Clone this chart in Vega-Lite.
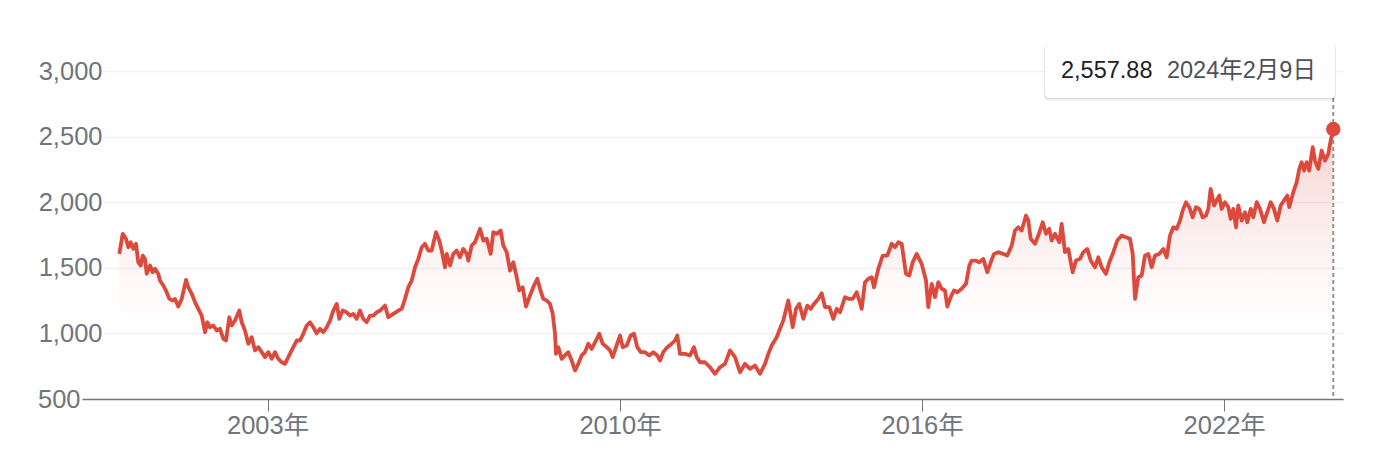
{
  "$schema": "https://vega.github.io/schema/vega-lite/v6.json",
  "width": 1261,
  "height": 328,
  "autosize": {"type": "none"},
  "padding": {"left": 82, "top": 71, "right": 35, "bottom": 57},
  "background": "white",
  "config": {"view": {"stroke": null}, "font": "Liberation Sans, Arial, Noto Sans CJK JP, sans-serif"},
  "data": {"values": [
    {"year": 2000.055, "price": 1606}, {"year": 2000.122, "price": 1759}, {"year": 2000.188, "price": 1721}, {"year": 2000.234, "price": 1657},
    {"year": 2000.281, "price": 1695}, {"year": 2000.333, "price": 1644}, {"year": 2000.386, "price": 1683}, {"year": 2000.432, "price": 1542},
    {"year": 2000.480, "price": 1517}, {"year": 2000.520, "price": 1593}, {"year": 2000.565, "price": 1568}, {"year": 2000.599, "price": 1454},
    {"year": 2000.665, "price": 1517}, {"year": 2000.718, "price": 1466}, {"year": 2000.764, "price": 1492}, {"year": 2000.829, "price": 1454},
    {"year": 2000.863, "price": 1403}, {"year": 2000.929, "price": 1365}, {"year": 2000.996, "price": 1314}, {"year": 2001.048, "price": 1263},
    {"year": 2001.115, "price": 1251}, {"year": 2001.161, "price": 1263}, {"year": 2001.227, "price": 1205}, {"year": 2001.294, "price": 1263},
    {"year": 2001.380, "price": 1408}, {"year": 2001.425, "price": 1352}, {"year": 2001.493, "price": 1302}, {"year": 2001.558, "price": 1238},
    {"year": 2001.624, "price": 1187}, {"year": 2001.691, "price": 1136}, {"year": 2001.757, "price": 1009}, {"year": 2001.803, "price": 1085},
    {"year": 2001.856, "price": 1047}, {"year": 2001.922, "price": 1060}, {"year": 2001.989, "price": 1022}, {"year": 2002.055, "price": 1035},
    {"year": 2002.120, "price": 959}, {"year": 2002.174, "price": 946}, {"year": 2002.240, "price": 1123}, {"year": 2002.287, "price": 1060},
    {"year": 2002.353, "price": 1098}, {"year": 2002.438, "price": 1174}, {"year": 2002.486, "price": 1085}, {"year": 2002.551, "price": 1022},
    {"year": 2002.617, "price": 921}, {"year": 2002.684, "price": 971}, {"year": 2002.750, "price": 870}, {"year": 2002.816, "price": 895},
    {"year": 2002.883, "price": 857}, {"year": 2002.949, "price": 819}, {"year": 2003.014, "price": 857}, {"year": 2003.082, "price": 806},
    {"year": 2003.147, "price": 857}, {"year": 2003.213, "price": 806}, {"year": 2003.280, "price": 780}, {"year": 2003.346, "price": 768},
    {"year": 2003.411, "price": 819}, {"year": 2003.511, "price": 895}, {"year": 2003.578, "price": 946}, {"year": 2003.644, "price": 946},
    {"year": 2003.709, "price": 997}, {"year": 2003.777, "price": 1060}, {"year": 2003.842, "price": 1085}, {"year": 2003.908, "price": 1047},
    {"year": 2003.975, "price": 1000}, {"year": 2004.041, "price": 1035}, {"year": 2004.106, "price": 1009}, {"year": 2004.174, "price": 1047},
    {"year": 2004.240, "price": 1098}, {"year": 2004.305, "price": 1174}, {"year": 2004.373, "price": 1225}, {"year": 2004.424, "price": 1111},
    {"year": 2004.492, "price": 1174}, {"year": 2004.571, "price": 1161}, {"year": 2004.637, "price": 1136}, {"year": 2004.702, "price": 1149},
    {"year": 2004.770, "price": 1111}, {"year": 2004.835, "price": 1174}, {"year": 2004.901, "price": 1111}, {"year": 2004.968, "price": 1085},
    {"year": 2005.034, "price": 1136}, {"year": 2005.100, "price": 1136}, {"year": 2005.167, "price": 1161}, {"year": 2005.233, "price": 1174},
    {"year": 2005.332, "price": 1212}, {"year": 2005.397, "price": 1123}, {"year": 2005.497, "price": 1149}, {"year": 2005.596, "price": 1174},
    {"year": 2005.664, "price": 1187}, {"year": 2005.729, "price": 1263}, {"year": 2005.795, "price": 1352}, {"year": 2005.862, "price": 1403},
    {"year": 2005.928, "price": 1504}, {"year": 2005.993, "price": 1568}, {"year": 2006.061, "price": 1657}, {"year": 2006.126, "price": 1683},
    {"year": 2006.192, "price": 1632}, {"year": 2006.259, "price": 1632}, {"year": 2006.345, "price": 1771}, {"year": 2006.410, "price": 1708},
    {"year": 2006.458, "price": 1632}, {"year": 2006.524, "price": 1504}, {"year": 2006.557, "price": 1606}, {"year": 2006.623, "price": 1517},
    {"year": 2006.688, "price": 1606}, {"year": 2006.756, "price": 1632}, {"year": 2006.821, "price": 1580}, {"year": 2006.887, "price": 1644},
    {"year": 2006.955, "price": 1606}, {"year": 2006.986, "price": 1555}, {"year": 2007.054, "price": 1670}, {"year": 2007.119, "price": 1695},
    {"year": 2007.219, "price": 1797}, {"year": 2007.284, "price": 1708}, {"year": 2007.352, "price": 1721}, {"year": 2007.431, "price": 1606},
    {"year": 2007.483, "price": 1771}, {"year": 2007.550, "price": 1759}, {"year": 2007.630, "price": 1784}, {"year": 2007.681, "price": 1670},
    {"year": 2007.749, "price": 1619}, {"year": 2007.815, "price": 1479}, {"year": 2007.880, "price": 1542}, {"year": 2007.948, "price": 1428},
    {"year": 2007.999, "price": 1327}, {"year": 2008.067, "price": 1352}, {"year": 2008.132, "price": 1205}, {"year": 2008.212, "price": 1289},
    {"year": 2008.291, "price": 1365}, {"year": 2008.357, "price": 1416}, {"year": 2008.410, "price": 1340}, {"year": 2008.476, "price": 1263},
    {"year": 2008.543, "price": 1251}, {"year": 2008.609, "price": 1225}, {"year": 2008.663, "price": 1149}, {"year": 2008.708, "price": 997},
    {"year": 2008.728, "price": 844}, {"year": 2008.774, "price": 895}, {"year": 2008.841, "price": 806}, {"year": 2008.907, "price": 832},
    {"year": 2008.972, "price": 857}, {"year": 2009.040, "price": 793}, {"year": 2009.105, "price": 717}, {"year": 2009.171, "price": 768},
    {"year": 2009.238, "price": 832}, {"year": 2009.304, "price": 857}, {"year": 2009.370, "price": 921}, {"year": 2009.437, "price": 882},
    {"year": 2009.523, "price": 946}, {"year": 2009.588, "price": 997}, {"year": 2009.656, "price": 921}, {"year": 2009.735, "price": 895},
    {"year": 2009.801, "price": 870}, {"year": 2009.854, "price": 819}, {"year": 2009.920, "price": 895}, {"year": 2009.999, "price": 984},
    {"year": 2010.053, "price": 895}, {"year": 2010.132, "price": 908}, {"year": 2010.211, "price": 984}, {"year": 2010.277, "price": 997},
    {"year": 2010.343, "price": 895}, {"year": 2010.410, "price": 857}, {"year": 2010.496, "price": 857}, {"year": 2010.581, "price": 832},
    {"year": 2010.661, "price": 857}, {"year": 2010.740, "price": 832}, {"year": 2010.794, "price": 793}, {"year": 2010.859, "price": 857},
    {"year": 2010.939, "price": 895}, {"year": 2011.026, "price": 921}, {"year": 2011.092, "price": 946}, {"year": 2011.137, "price": 984},
    {"year": 2011.191, "price": 844}, {"year": 2011.290, "price": 844}, {"year": 2011.389, "price": 832}, {"year": 2011.469, "price": 895},
    {"year": 2011.523, "price": 819}, {"year": 2011.588, "price": 780}, {"year": 2011.687, "price": 780}, {"year": 2011.787, "price": 742},
    {"year": 2011.886, "price": 692}, {"year": 2011.985, "price": 742}, {"year": 2012.085, "price": 768}, {"year": 2012.184, "price": 870},
    {"year": 2012.283, "price": 819}, {"year": 2012.383, "price": 704}, {"year": 2012.482, "price": 768}, {"year": 2012.581, "price": 730},
    {"year": 2012.680, "price": 755}, {"year": 2012.780, "price": 692}, {"year": 2012.879, "price": 768}, {"year": 2012.945, "price": 844},
    {"year": 2013.012, "price": 908}, {"year": 2013.112, "price": 971}, {"year": 2013.177, "price": 1035}, {"year": 2013.243, "price": 1098},
    {"year": 2013.342, "price": 1251}, {"year": 2013.429, "price": 1047}, {"year": 2013.495, "price": 1187}, {"year": 2013.560, "price": 1225},
    {"year": 2013.640, "price": 1111}, {"year": 2013.719, "price": 1212}, {"year": 2013.787, "price": 1187}, {"year": 2013.852, "price": 1225},
    {"year": 2013.938, "price": 1263}, {"year": 2014.005, "price": 1306}, {"year": 2014.071, "price": 1200}, {"year": 2014.156, "price": 1200},
    {"year": 2014.236, "price": 1111}, {"year": 2014.303, "price": 1187}, {"year": 2014.369, "price": 1161}, {"year": 2014.468, "price": 1276},
    {"year": 2014.554, "price": 1263}, {"year": 2014.621, "price": 1263}, {"year": 2014.701, "price": 1314}, {"year": 2014.752, "price": 1251},
    {"year": 2014.800, "price": 1187}, {"year": 2014.865, "price": 1390}, {"year": 2014.931, "price": 1416}, {"year": 2014.998, "price": 1428},
    {"year": 2015.044, "price": 1352}, {"year": 2015.129, "price": 1492}, {"year": 2015.217, "price": 1593}, {"year": 2015.308, "price": 1593},
    {"year": 2015.396, "price": 1683}, {"year": 2015.461, "price": 1657}, {"year": 2015.527, "price": 1695}, {"year": 2015.594, "price": 1683},
    {"year": 2015.679, "price": 1454}, {"year": 2015.745, "price": 1441}, {"year": 2015.812, "price": 1542}, {"year": 2015.892, "price": 1606},
    {"year": 2015.991, "price": 1530}, {"year": 2016.077, "price": 1403}, {"year": 2016.122, "price": 1200}, {"year": 2016.190, "price": 1378},
    {"year": 2016.255, "price": 1276}, {"year": 2016.321, "price": 1390}, {"year": 2016.388, "price": 1340}, {"year": 2016.454, "price": 1327},
    {"year": 2016.500, "price": 1205}, {"year": 2016.567, "price": 1276}, {"year": 2016.633, "price": 1327}, {"year": 2016.698, "price": 1314},
    {"year": 2016.786, "price": 1340}, {"year": 2016.871, "price": 1378}, {"year": 2016.937, "price": 1517}, {"year": 2016.984, "price": 1555},
    {"year": 2017.070, "price": 1555}, {"year": 2017.135, "price": 1542}, {"year": 2017.215, "price": 1568}, {"year": 2017.294, "price": 1466},
    {"year": 2017.362, "price": 1542}, {"year": 2017.427, "price": 1606}, {"year": 2017.513, "price": 1619}, {"year": 2017.612, "price": 1606},
    {"year": 2017.692, "price": 1593}, {"year": 2017.779, "price": 1670}, {"year": 2017.844, "price": 1784}, {"year": 2017.910, "price": 1809},
    {"year": 2017.977, "price": 1784}, {"year": 2018.063, "price": 1898}, {"year": 2018.109, "price": 1860}, {"year": 2018.156, "price": 1721},
    {"year": 2018.242, "price": 1683}, {"year": 2018.307, "price": 1746}, {"year": 2018.395, "price": 1847}, {"year": 2018.460, "price": 1759},
    {"year": 2018.526, "price": 1797}, {"year": 2018.573, "price": 1708}, {"year": 2018.639, "price": 1759}, {"year": 2018.724, "price": 1695},
    {"year": 2018.772, "price": 1835}, {"year": 2018.837, "price": 1619}, {"year": 2018.903, "price": 1644}, {"year": 2018.990, "price": 1466},
    {"year": 2019.056, "price": 1555}, {"year": 2019.135, "price": 1568}, {"year": 2019.201, "price": 1619}, {"year": 2019.280, "price": 1644},
    {"year": 2019.348, "price": 1555}, {"year": 2019.433, "price": 1504}, {"year": 2019.499, "price": 1580}, {"year": 2019.566, "price": 1504},
    {"year": 2019.652, "price": 1454}, {"year": 2019.718, "price": 1542}, {"year": 2019.797, "price": 1619}, {"year": 2019.876, "price": 1708},
    {"year": 2019.964, "price": 1746}, {"year": 2020.049, "price": 1733}, {"year": 2020.128, "price": 1721}, {"year": 2020.182, "price": 1606},
    {"year": 2020.228, "price": 1263}, {"year": 2020.293, "price": 1428}, {"year": 2020.361, "price": 1441}, {"year": 2020.426, "price": 1593},
    {"year": 2020.492, "price": 1606}, {"year": 2020.559, "price": 1504}, {"year": 2020.625, "price": 1593}, {"year": 2020.710, "price": 1606},
    {"year": 2020.790, "price": 1644}, {"year": 2020.857, "price": 1580}, {"year": 2020.923, "price": 1746}, {"year": 2020.989, "price": 1809},
    {"year": 2021.056, "price": 1797}, {"year": 2021.122, "price": 1860}, {"year": 2021.175, "price": 1936}, {"year": 2021.241, "price": 2000},
    {"year": 2021.306, "price": 1962}, {"year": 2021.374, "price": 1885}, {"year": 2021.439, "price": 1962}, {"year": 2021.505, "price": 1949},
    {"year": 2021.572, "price": 1885}, {"year": 2021.638, "price": 1898}, {"year": 2021.684, "price": 1949}, {"year": 2021.731, "price": 2102},
    {"year": 2021.797, "price": 1975}, {"year": 2021.850, "price": 2013}, {"year": 2021.902, "price": 2051}, {"year": 2021.949, "price": 1949},
    {"year": 2022.015, "price": 2000}, {"year": 2022.081, "price": 1962}, {"year": 2022.128, "price": 1873}, {"year": 2022.180, "price": 1949},
    {"year": 2022.234, "price": 1809}, {"year": 2022.279, "price": 1975}, {"year": 2022.347, "price": 1860}, {"year": 2022.412, "price": 1923},
    {"year": 2022.458, "price": 1847}, {"year": 2022.526, "price": 1949}, {"year": 2022.577, "price": 1885}, {"year": 2022.645, "price": 2000},
    {"year": 2022.710, "price": 1949}, {"year": 2022.790, "price": 1847}, {"year": 2022.843, "price": 1911}, {"year": 2022.923, "price": 2000},
    {"year": 2022.988, "price": 1949}, {"year": 2023.054, "price": 1860}, {"year": 2023.121, "price": 1975}, {"year": 2023.187, "price": 2013},
    {"year": 2023.253, "price": 2051}, {"year": 2023.292, "price": 1962}, {"year": 2023.372, "price": 2076}, {"year": 2023.439, "price": 2152},
    {"year": 2023.491, "price": 2254}, {"year": 2023.538, "price": 2305}, {"year": 2023.584, "price": 2241}, {"year": 2023.638, "price": 2305},
    {"year": 2023.689, "price": 2241}, {"year": 2023.757, "price": 2419}, {"year": 2023.802, "price": 2317}, {"year": 2023.868, "price": 2254},
    {"year": 2023.935, "price": 2394}, {"year": 2024.001, "price": 2317}, {"year": 2024.067, "price": 2368}, {"year": 2024.114, "price": 2470},
    {"year": 2024.166, "price": 2557.88}
  ]},
  "encoding": {
    "x": {
      "field": "year", "type": "quantitative",
      "scale": {"domain": [1999.314, 2024.359], "nice": false, "zero": false},
      "axis": {
        "title": null, "values": [2003, 2010, 2016, 2022], "labelExpr": "datum.value + '年'",
        "grid": false, "domainColor": "#70757a", "domainWidth": 1.5,
        "tickColor": "#70757a", "tickSize": 12, "tickWidth": 1,
        "labelPadding": 2, "labelFontSize": 25.5, "labelColor": "#70757a", "labelFlush": false
      }
    },
    "y": {
      "field": "price", "type": "quantitative",
      "scale": {"domain": [500, 3000], "nice": false, "zero": false},
      "axis": {
        "title": null, "values": [500, 1000, 1500, 2000, 2500, 3000], "format": ",d",
        "domain": false, "ticks": false, "tickSize": 0,
        "labelPadding": {"condition": {"test": "datum.value == 500", "value": 2}, "value": -20},
        "labelFontSize": 25.5, "labelColor": "#70757a", "labelBaseline": "middle", "labelAlign": "right",
        "grid": true, "gridColor": "#f1f1f1", "gridWidth": 1.5,
        "gridDash": [0, 22, 3000],
        "gridOpacity": {"condition": {"test": "datum.value == 500", "value": 0}, "value": 1}
      }
    }
  },
  "layer": [
    {
      "mark": {
        "type": "area",
        "color": {
          "gradient": "linear", "x1": 0, "y1": 0, "x2": 0, "y2": 1,
          "stops": [
            {"offset": 0, "color": "rgba(219,74,60,0.24)"},
            {"offset": 0.3, "color": "rgba(219,74,60,0.12)"},
            {"offset": 0.55, "color": "rgba(219,74,60,0.04)"},
            {"offset": 0.75, "color": "rgba(219,74,60,0)"},
            {"offset": 1, "color": "rgba(219,74,60,0)"}
          ]
        }
      },
      "encoding": {"y2": {"datum": 500}}
    },
    {
      "transform": [{"filter": "datum.year >= 2024.16"}],
      "mark": {"type": "rule", "color": "#8f9499", "strokeWidth": 2, "strokeDash": [4, 3]},
      "encoding": {
        "y": {"datum": 2794, "type": "quantitative"},
        "y2": {"datum": 500}
      }
    },
    {
      "mark": {"type": "line", "color": "#db4a3c", "strokeWidth": 3.8, "strokeJoin": "round"}
    },
    {
      "transform": [{"filter": "datum.year >= 2024.16"}],
      "mark": {"type": "point", "filled": true, "color": "#db4a3c", "size": 210, "opacity": 1}
    },
    {
      "transform": [{"filter": "datum.year >= 2024.16"}],
      "mark": {"type": "rect", "color": "#000000", "opacity": 0.05, "cornerRadius": 5},
      "encoding": {
        "x": {"datum": 2018.42, "type": "quantitative"},
        "x2": {"datum": 2024.22},
        "y": {"datum": 3205, "type": "quantitative"},
        "y2": {"datum": 2772}
      }
    },
    {
      "transform": [{"filter": "datum.year >= 2024.16"}],
      "mark": {"type": "rect", "color": "#000000", "opacity": 0.09, "cornerRadius": 4},
      "encoding": {
        "x": {"datum": 2018.43, "type": "quantitative"},
        "x2": {"datum": 2024.21},
        "y": {"datum": 3210, "type": "quantitative"},
        "y2": {"datum": 2785}
      }
    },
    {
      "transform": [{"filter": "datum.year >= 2024.16"}],
      "mark": {"type": "rect", "color": "#ffffff", "opacity": 1, "cornerRadius": 4},
      "encoding": {
        "x": {"datum": 2018.44, "type": "quantitative"},
        "x2": {"datum": 2024.2},
        "y": {"datum": 3213, "type": "quantitative"},
        "y2": {"datum": 2794}
      }
    },
    {
      "transform": [{"filter": "datum.year >= 2024.16"}],
      "mark": {"type": "text", "align": "left", "baseline": "middle", "fontSize": 23.5, "color": "#202124"},
      "encoding": {
        "x": {"datum": 2018.758, "type": "quantitative"},
        "y": {"datum": 3000, "type": "quantitative"},
        "text": {"field": "price", "type": "quantitative", "format": ",.2f"}
      }
    },
    {
      "transform": [{"filter": "datum.year >= 2024.16"}],
      "mark": {"type": "text", "align": "left", "baseline": "middle", "fontSize": 23.5, "color": "#4d5156"},
      "encoding": {
        "x": {"datum": 2020.863, "type": "quantitative"},
        "y": {"datum": 3000, "type": "quantitative"},
        "text": {"value": "2024年2月9日"}
      }
    }
  ]
}
